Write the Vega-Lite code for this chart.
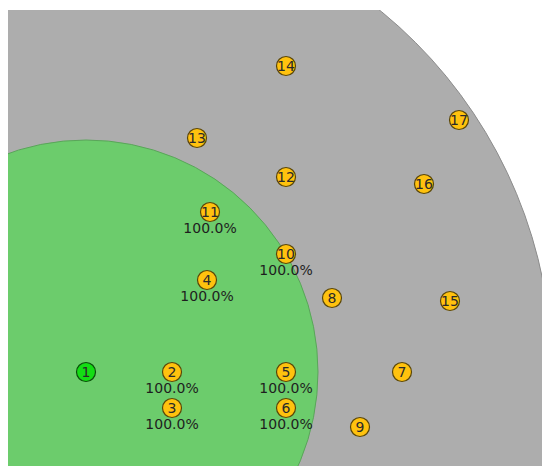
{
  "$schema": "https://vega.github.io/schema/vega-lite/v6.json",
  "width": 534,
  "height": 456,
  "autosize": "none",
  "padding": {"left": 8, "top": 10, "right": 0, "bottom": 0},
  "background": "white",
  "config": {"view": {"stroke": null}},
  "resolve": {"scale": {"color": "independent", "stroke": "independent", "size": "independent"}},
  "datasets": {
    "zones": [
      {"zone": "outer", "x": 0, "y": 0, "r": 466},
      {"zone": "inner", "x": 0, "y": 0, "r": 232}
    ],
    "nodes": [
      {"id": "1", "type": "ap", "x": 0, "y": 0, "thr": null},
      {"id": "2", "type": "sta", "x": 86, "y": 0, "thr": 1.0},
      {"id": "3", "type": "sta", "x": 86, "y": -36, "thr": 1.0},
      {"id": "4", "type": "sta", "x": 121, "y": 92, "thr": 1.0},
      {"id": "5", "type": "sta", "x": 200, "y": 0, "thr": 1.0},
      {"id": "6", "type": "sta", "x": 200, "y": -36, "thr": 1.0},
      {"id": "7", "type": "sta", "x": 316, "y": 0, "thr": null},
      {"id": "8", "type": "sta", "x": 246, "y": 74, "thr": null},
      {"id": "9", "type": "sta", "x": 274, "y": -55, "thr": null},
      {"id": "10", "type": "sta", "x": 200, "y": 118, "thr": 1.0},
      {"id": "11", "type": "sta", "x": 124, "y": 160, "thr": 1.0},
      {"id": "12", "type": "sta", "x": 200, "y": 195, "thr": null},
      {"id": "13", "type": "sta", "x": 111, "y": 234, "thr": null},
      {"id": "14", "type": "sta", "x": 200, "y": 306, "thr": null},
      {"id": "15", "type": "sta", "x": 364, "y": 71, "thr": null},
      {"id": "16", "type": "sta", "x": 338, "y": 188, "thr": null},
      {"id": "17", "type": "sta", "x": 373, "y": 252, "thr": null}
    ]
  },
  "layer": [
    {
      "data": {"name": "zones"},
      "mark": {"type": "point", "shape": "circle", "filled": true, "opacity": 1, "clip": true, "strokeWidth": 1},
      "encoding": {
        "x": {"field": "x", "type": "quantitative", "scale": {"domain": [-78, 456], "nice": false, "zero": false}, "axis": null},
        "y": {"field": "y", "type": "quantitative", "scale": {"domain": [-94, 362], "nice": false, "zero": false}, "axis": null},
        "size": {"field": "r", "type": "quantitative", "scale": {"type": "pow", "exponent": 2, "domain": [0, 466], "range": [0, 868624]}, "legend": null},
        "color": {"field": "zone", "type": "nominal", "scale": {"domain": ["outer", "inner"], "range": ["#adadad", "#6ccc6c"]}, "legend": null},
        "stroke": {"field": "zone", "type": "nominal", "scale": {"domain": ["outer", "inner"], "range": ["#8c8c8c", "#5aa55a"]}, "legend": null},
        "order": {"field": "r", "sort": "descending"}
      }
    },
    {
      "data": {"name": "nodes"},
      "mark": {"type": "point", "shape": "circle", "filled": true, "opacity": 1, "size": 361, "strokeWidth": 1.2},
      "encoding": {
        "x": {"field": "x", "type": "quantitative"},
        "y": {"field": "y", "type": "quantitative"},
        "color": {"field": "type", "type": "nominal", "scale": {"domain": ["ap", "sta"], "range": ["#14dd14", "#ffc20e"]}, "legend": null},
        "stroke": {"field": "type", "type": "nominal", "scale": {"domain": ["ap", "sta"], "range": ["#0b4f0b", "#5a4608"]}, "legend": null}
      }
    },
    {
      "data": {"name": "nodes"},
      "mark": {"type": "text", "font": "DejaVu Sans", "fontSize": 14, "baseline": "middle", "align": "center", "dy": 1, "color": "#2a2a2a"},
      "encoding": {
        "x": {"field": "x", "type": "quantitative"},
        "y": {"field": "y", "type": "quantitative"},
        "text": {"field": "id", "type": "nominal"}
      }
    },
    {
      "data": {"name": "nodes"},
      "transform": [{"filter": "datum.thr != null"}],
      "mark": {"type": "text", "font": "DejaVu Sans", "fontSize": 14, "baseline": "middle", "align": "center", "dy": 17, "color": "#1e1e1e"},
      "encoding": {
        "x": {"field": "x", "type": "quantitative"},
        "y": {"field": "y", "type": "quantitative"},
        "text": {"field": "thr", "type": "quantitative", "format": ".1%"}
      }
    }
  ]
}
